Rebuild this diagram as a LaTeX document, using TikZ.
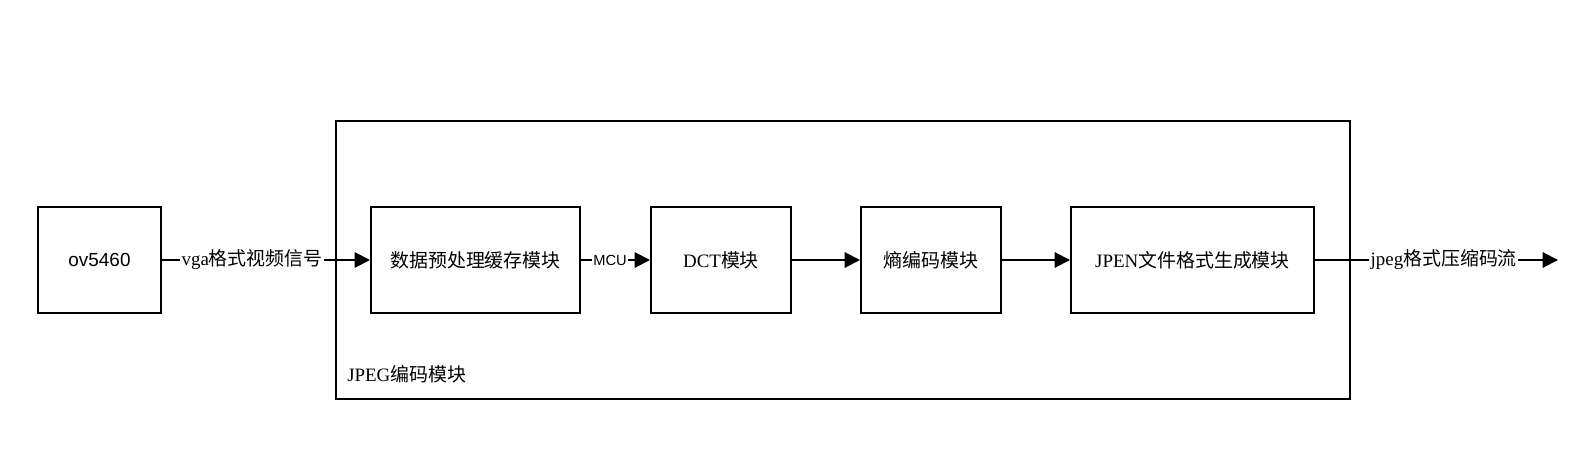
\documentclass[tikz,border=0pt]{standalone}
\usepackage{fontspec}
\setmainfont{Liberation Serif}
\newfontfamily\cjk{Noto Sans CJK SC}
\newfontfamily\arial{Liberation Sans}
\usetikzlibrary{arrows.meta}
\begin{document}
\begin{tikzpicture}[x=0.75pt,y=-0.75pt,
  blk/.style={draw,line width=1.5pt,minimum height=106*0.75pt,inner sep=0pt,font=\fontsize{14.2}{16}\selectfont},
  conn/.style={line width=1.5pt,-{Triangle[length=11.5pt,width=11.5pt]}},
  elabel/.style={fill=white,inner sep=1pt,font=\fontsize{14.2}{16}\selectfont},
  txt/.style={font=\fontsize{14.2}{16}\selectfont}]
\useasboundingbox (0,0) rectangle (1576,456);
\node[draw,line width=1.5pt,minimum width=1014*0.75pt,minimum height=278*0.75pt,inner sep=0pt] (jpeg) at (843,260) {};
\node[txt,anchor=west,inner sep=0pt] (jpeglbl) at (347,374) {JPEG{\cjk 编码模块}};
\node[blk,minimum width=123*0.75pt,font=\arial\fontsize{14.2}{16}\selectfont] (ov) at (99.5,260) {ov5460};
\node[blk,minimum width=209*0.75pt] (pre) at (475.5,260) {\cjk 数据预处理缓存模块};
\node[blk,minimum width=140*0.75pt] (dct) at (721,260) {DCT{\cjk 模块}};
\node[blk,minimum width=140*0.75pt] (ent) at (931,260) {\cjk 熵编码模块};
\node[blk,minimum width=243*0.75pt] (jpen) at (1192.5,260) {JPEN{\cjk 文件格式生成模块}};
\coordinate (out) at (1558,260);
\draw[conn] (ov.east) -- node[elabel,pos=0.433] {vga{\cjk 格式视频信号}} (pre.west);
\draw[conn] (pre.east) -- node[elabel,pos=0.42,font=\arial\fontsize{11}{13}\selectfont] {MCU} (dct.west);
\draw[conn] (dct.east) -- (ent.west);
\draw[conn] (ent.east) -- (jpen.west);
\draw[conn] (jpen.east) -- node[elabel,pos=0.53] {jpeg{\cjk 格式压缩码流}} (out);
\end{tikzpicture}
\end{document}
